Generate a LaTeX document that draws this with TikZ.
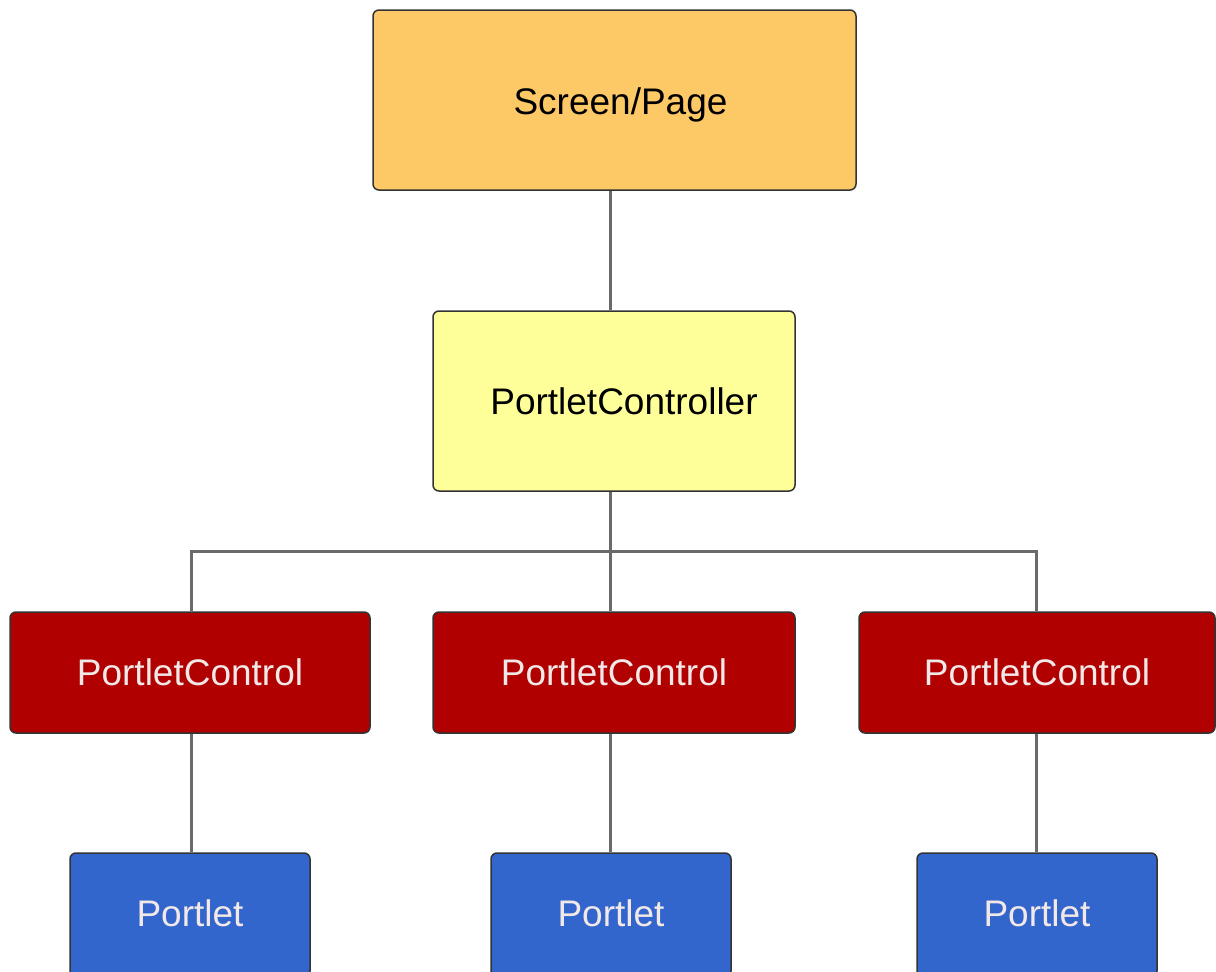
\documentclass[tikz,border=0pt]{standalone}
\usepackage{fontspec}
\setmainfont{Liberation Sans}
\definecolor{orangebox}{HTML}{FDC866}
\definecolor{yellowbox}{HTML}{FFFF99}
\definecolor{redbox}{HTML}{B00000}
\definecolor{bluebox}{HTML}{3366CC}
\definecolor{edge}{HTML}{333333}
\definecolor{linkc}{HTML}{6A6A6A}
\definecolor{lighttext}{HTML}{F2E8E8}
\begin{document}
\begin{tikzpicture}[x=1pt,y=-1pt,
  box/.style={draw=edge,line width=1.5pt,rounded corners=6pt,inner sep=0pt,
    font=\fontsize{37}{40}\selectfont},
  link/.style={draw=linkc,line width=3pt}]
\useasboundingbox (0,0) rectangle (1216,972);
\fill[white] (0,0) rectangle (1216,972);
\node[box,fill=orangebox,minimum width=483pt,minimum height=180pt] (page) at (614.5,100) {\raisebox{-5pt}[\height][\depth]{\hspace*{12pt}Screen/Page}};
\node[box,fill=yellowbox,minimum width=362pt,minimum height=180pt] (ctrl) at (614,401) {\hspace*{20pt}PortletController};
\coordinate (bar) at (610,551);
\coordinate (barL) at (191,551);
\coordinate (barR) at (1036,551);
\node[box,fill=redbox,text=lighttext,minimum width=360pt,minimum height=121pt] (c1) at (190,672.5) {PortletControl};
\node[box,fill=redbox,text=lighttext,minimum width=362pt,minimum height=121pt] (c2) at (614,672.5) {PortletControl};
\node[box,fill=redbox,text=lighttext,minimum width=356pt,minimum height=121pt] (c3) at (1037,672.5) {PortletControl};
\node[box,fill=bluebox,text=lighttext,minimum width=240pt,minimum height=124pt] (p1) at (190,915) {\raisebox{2pt}[\height][\depth]{Portlet}};
\node[box,fill=bluebox,text=lighttext,minimum width=240pt,minimum height=124pt] (p2) at (611,915) {\raisebox{2pt}[\height][\depth]{Portlet}};
\node[box,fill=bluebox,text=lighttext,minimum width=240pt,minimum height=124pt] (p3) at (1037,915) {\raisebox{2pt}[\height][\depth]{Portlet}};
\draw[link] (page.south -| bar) -- (ctrl.north -| bar);
\draw[link] (ctrl.south -| bar) -- (c2.north -| bar);
\draw[link] (barL |- c1.north) -- (barL) -- (barR) -- (barR |- c3.north);
\draw[link] (c1.south -| barL) -- (p1.north -| barL);
\draw[link] (c2.south -| bar) -- (p2.north -| bar);
\draw[link] (c3.south -| barR) -- (p3.north -| barR);
\end{tikzpicture}
\end{document}
